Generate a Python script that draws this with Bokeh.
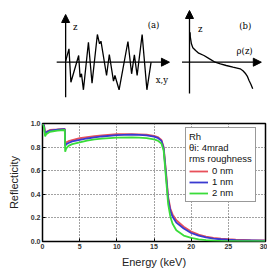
from bokeh.plotting import figure
from bokeh.layouts import column
from bokeh.models import (Range1d, Arrow, NormalHead, Label, Legend, LegendItem,
                          FixedTicker, CustomJSTickFormatter)
from bokeh.embed import file_html
from bokeh.resources import INLINE

# ---- (a) rough surface profile: position along surface and height
surface_x = [0, 4, 6.3, 15.6, 17.3, 19, 21.3, 27.3, 31.6, 38, 40.6, 42.3, 49, 52.3,
             57.3, 59, 64, 74.6, 79, 82.3, 85.6, 91.6, 97.3, 102.3]
surface_z = [1, 13.4, -20, 6.7, -15, -11.6, -27.6, 20, -21, 27.7, 18.4, 21, -13.3, 7.7,
             -19, -13.3, -27.6, 20.7, -11.6, 7.4, -13.3, 27.7, -27.6, 0]

# ---- (b) density profile rho(z)
rho_x = [0.7, 1.0, 2.3, 4, 7.3, 11, 17.3, 24, 30.7, 37, 44, 52, 60.7, 64, 67.3, 69.5, 71.3, 73.5, 75.7]
rho_z = [30, 25, 18.4, 14.5, 11.7, 9, 6.7, 3.3, 0, -1.7, -3.3, -5, -6.6, -8.5, -11.6, -14.5, -18.3, -22, -26.6]

# ---- (c) Rh reflectivity at 4 mrad for three rms roughness values
energy = [0, 0.2, 0.35, 0.5, 1.0, 2.0, 2.9, 3.0, 3.05, 3.2, 3.5, 4, 5, 6, 7, 8, 10, 12, 13, 14,
          15, 15.5, 16.0, 16.3, 16.6, 16.9, 17.2, 17.5, 18, 19, 20, 21, 22, 23, 24, 25, 26, 27, 28, 30]
refl_0nm = [1.0, 0.99, 0.92, 0.93, 0.945, 0.95, 0.955, 0.955, 0.83, 0.84, 0.85, 0.86, 0.875, 0.885,
            0.893, 0.90, 0.91, 0.91, 0.908, 0.905, 0.895, 0.885, 0.86, 0.80, 0.60, 0.38, 0.28, 0.23,
            0.18, 0.125, 0.085, 0.058, 0.042, 0.031, 0.024, 0.019, 0.016, 0.014, 0.012, 0.010]
refl_1nm = [1.0, 0.985, 0.91, 0.925, 0.94, 0.947, 0.952, 0.952, 0.81, 0.825, 0.835, 0.848, 0.862, 0.873,
            0.882, 0.89, 0.902, 0.905, 0.903, 0.899, 0.889, 0.879, 0.853, 0.79, 0.58, 0.36, 0.26, 0.21,
            0.16, 0.11, 0.072, 0.049, 0.035, 0.025, 0.019, 0.015, 0.012, 0.010, 0.009, 0.007]
refl_2nm = [1.0, 0.97, 0.89, 0.91, 0.93, 0.94, 0.945, 0.945, 0.76, 0.79, 0.81, 0.825, 0.84, 0.855,
            0.865, 0.872, 0.88, 0.882, 0.88, 0.876, 0.865, 0.855, 0.83, 0.77, 0.55, 0.32, 0.21, 0.15,
            0.095, 0.05, 0.03, 0.018, 0.011, 0.007, 0.005, 0.004, 0.003, 0.003, 0.002, 0.002]
x_ticks = [0, 5, 10, 15, 20, 25, 30]
y_ticks = [0.0, 0.2, 0.4, 0.6, 0.8, 1.0]

SERIF = "DejaVu Serif"
SANS = "Liberation Sans"

# ---------------- schematic panels (a) and (b)
top = figure(width=267, height=100, output_backend="svg", toolbar_location=None,
             x_range=Range1d(0, 267), y_range=Range1d(-38.3, 61.7),
             min_border=0, outline_line_color=None)
top.axis.visible = False
top.grid.visible = False

a0 = 27.7   # vertical axis of (a)
b0 = 176.0  # vertical axis of (b)

top.line([a0 + v for v in surface_x], surface_z, line_color="black", line_width=1.3)
top.line([b0 + v for v in rho_x], rho_z, line_color="black", line_width=1.3)

def axis_arrow(x0, y0, x1, y1):
    top.add_layout(Arrow(x_start=x0, y_start=y0, x_end=x1, y_end=y1, line_width=1.3,
                         line_color="black",
                         end=NormalHead(size=8, fill_color="black", line_color="black")))

axis_arrow(17, 0, 152, 0)
axis_arrow(a0, -35, a0, 47.7)
axis_arrow(167, 0, 262, 0)
axis_arrow(b0, -31.3, b0, 51.7)

for txt, xx, yy in [("z", 39.3, 35), ("(a)", 133, 37.7), ("x,y", 143, -17.3),
                    ("z", 189, 33.7), ("(b)", 242.7, 36.7), ("ρ(z)", 242, 11)]:
    top.add_layout(Label(x=xx, y=yy, text=txt, text_font=SERIF, text_font_size="8.5px",
                         text_align="center", text_baseline="middle", text_color="black"))

# ---------------- reflectivity panel (c)
p = figure(width=267, height=179, output_backend="svg", toolbar_location=None,
           x_range=Range1d(0, 30), y_range=Range1d(0, 1),
           min_border_left=42, min_border_right=2, min_border_top=23, min_border_bottom=38)
p.outline_line_color = "black"
p.outline_line_width = 1.5

r0 = p.line(energy, refl_0nm, line_color="#e8505a", line_width=1.8)
r1 = p.line(energy, refl_1nm, line_color="#3a3ad0", line_width=1.8)
r2 = p.line(energy, refl_2nm, line_color="#3adc3a", line_width=1.8)

p.xaxis.ticker = FixedTicker(ticks=x_ticks)
p.yaxis.ticker = FixedTicker(ticks=y_ticks)
p.yaxis.formatter = CustomJSTickFormatter(code="return tick.toFixed(1);")
for ax in (p.xaxis, p.yaxis):
    ax.axis_line_color = None
    ax.major_tick_in = 3
    ax.major_tick_out = 0
    ax.major_tick_line_color = "black"
    ax.minor_tick_line_color = None
    ax.major_label_text_font = SANS
    ax.major_label_text_font_size = "7px"
    ax.major_label_text_font_style = "bold"
    ax.major_label_text_color = "#333333"
    ax.major_label_standoff = 2
    ax.axis_label_text_font = SANS
    ax.axis_label_text_font_size = "11px"
    ax.axis_label_text_font_style = "normal"
    ax.axis_label_text_color = "#222222"
p.xaxis.axis_label = "Energy (keV)"
p.yaxis.axis_label = "Reflecticity"
p.xaxis.axis_label_standoff = 4
p.yaxis.axis_label_standoff = 8

p.grid.grid_line_color = "#444444"
p.grid.grid_line_dash = "1 2"
p.grid.grid_line_width = 1

legend = Legend(items=[LegendItem(label="0 nm", renderers=[r0]),
                       LegendItem(label="1 nm", renderers=[r1]),
                       LegendItem(label="2 nm", renderers=[r2])],
                location=(143, 39), title="Rh\nθi: 4mrad\nrms roughness")
legend.title_text_font = SANS
legend.title_text_font_size = "9.5px"
legend.title_text_font_style = "normal"
legend.title_text_color = "#111111"
legend.title_standoff = 1
legend.label_text_font = SANS
legend.label_text_font_size = "9.5px"
legend.label_text_color = "#111111"
legend.label_height = 10
legend.label_standoff = 4
legend.glyph_width = 19
legend.glyph_height = 10
legend.spacing = 0
legend.padding = 3
legend.margin = 0
legend.border_line_color = "#333333"
legend.border_line_width = 1.2
legend.background_fill_alpha = 1
p.add_layout(legend)

# panel tag, sitting under the axis title at the bottom edge
p.add_layout(Label(x=13.2, y=-0.277, text="(c)",
                   text_font=SERIF, text_font_size="8px", text_align="center",
                   text_baseline="middle", text_color="#222222"))

layout = column(top, p, spacing=0)
open("out.html", "w").write(file_html(layout, INLINE))
